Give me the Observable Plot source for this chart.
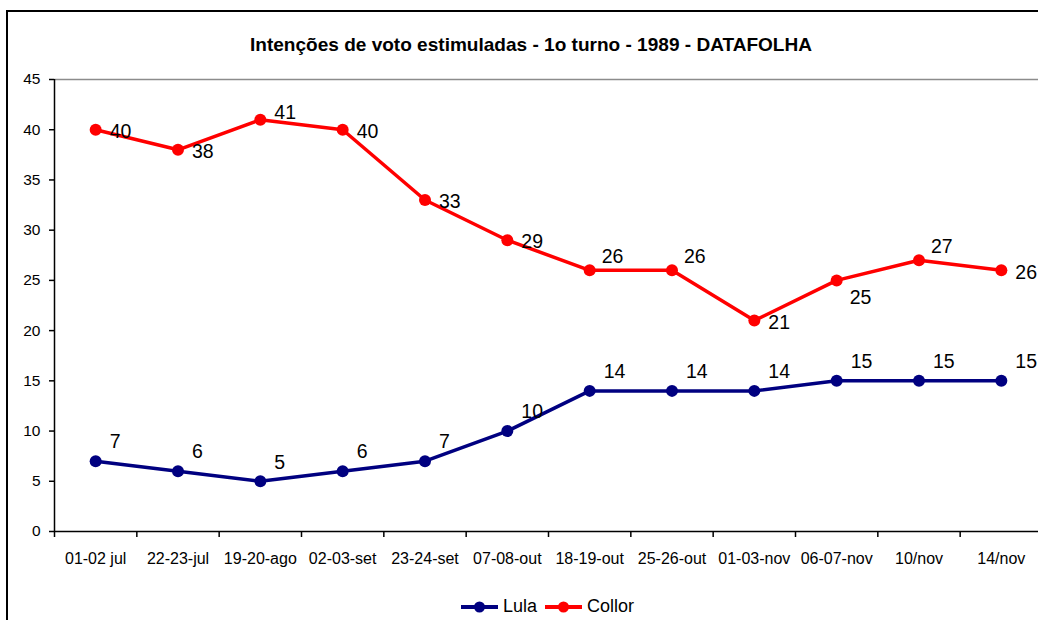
<!DOCTYPE html>
<html>
<head>
<meta charset="utf-8">
<script src="https://cdn.jsdelivr.net/npm/d3@7"></script>
<script src="https://cdn.jsdelivr.net/npm/@observablehq/plot@0.6"></script>
<style>
  html, body { margin: 0; padding: 0; background: #fff; overflow: hidden; }
  #page { position: relative; width: 1038px; height: 620px; overflow: hidden; font-family: "Liberation Sans", Arial, sans-serif; }
  #frame { position: absolute; left: 6px; top: 10px; width: 1100px; height: 700px; border: 2px solid #000; box-sizing: border-box; }
  #title { position: absolute; left: 0; top: 0; }
  #chart { position: absolute; left: 0; top: 0; }
  #legend { position: absolute; left: 461px; top: 596px; display: flex; align-items: center; font-size: 18px; color: #000; }
  #legend .item { display: flex; align-items: center; margin-right: 8px; }
  #legend svg { margin-right: 5px; }
</style>
</head>
<body>
<div id="page">
  <div id="frame"></div>
  <svg id="title" width="1038" height="70">
    <text x="531" y="51" text-anchor="middle" font-family="Liberation Sans, Arial, sans-serif" font-weight="bold" font-size="19" textLength="562" lengthAdjust="spacingAndGlyphs">Intenções de voto estimuladas - 1o turno - 1989 - DATAFOLHA</text>
  </svg>
  <div id="chart"></div>
  <div id="legend"></div>
</div>
<script>
const categories = ["01-02 jul","22-23-jul","19-20-ago","02-03-set","23-24-set","07-08-out","18-19-out","25-26-out","01-03-nov","06-07-nov","10/nov","14/nov"];
const lula   = [7, 6, 5, 6, 7, 10, 14, 14, 14, 15, 15, 15];
const collor = [40, 38, 41, 40, 33, 29, 26, 26, 21, 25, 27, 26];
const yTicks = [0, 5, 10, 15, 20, 25, 30, 35, 40, 45];
const seriesNames = ["Lula", "Collor"];
const seriesColors = ["#000080", "#ff0000"];
// label placement of Collor value labels (styling only)
const collorLabelSide = ["right","right","high","right","right","right","above","above","right","below","above","right"];

const rows = [];
categories.forEach((c, i) => rows.push({i, cat: c, value: lula[i], series: "Lula"}));
categories.forEach((c, i) => rows.push({i, cat: c, value: collor[i], series: "Collor", side: collorLabelSide[i]}));
const lulaRows = rows.filter(d => d.series === "Lula");
const collorRows = rows.filter(d => d.series === "Collor");

const boundaries = d3.range(categories.length + 1).map(k => k - 0.5);
const centers = d3.range(categories.length);

const labelFont = 19.5;
const collorText = (side, dx, dy) => Plot.text(collorRows.filter(d => d.side === side), {
  x: "i", y: "value", text: d => String(d.value), dx, dy, textAnchor: "start", fontSize: labelFont, fill: "#000"
});

const chart = Plot.plot({
  width: 1038,
  height: 590,
  marginTop: 79,
  marginBottom: 59,
  marginLeft: 54,
  marginRight: 0,
  style: { fontFamily: "Liberation Sans, Arial, sans-serif", background: "transparent", color: "#000", overflow: "visible" },
  x: { type: "linear", domain: [-0.5, categories.length - 0.5], range: [54, 1042] },
  y: { domain: [0, 45], range: [531, 79] },
  color: { domain: seriesNames, range: seriesColors },
  marks: [
    Plot.ruleY([45], { stroke: "#8c8c8c", strokeWidth: 1.5 }),
    Plot.axisY({ ticks: yTicks, tickSize: 5, tickPadding: 9, fontSize: 15.5, label: null, strokeWidth: 1.5 }),
    Plot.axisX({ ticks: boundaries, tickSize: 6, tickFormat: () => "", label: null, strokeWidth: 1.5 }),
    Plot.axisX({ ticks: centers, tickSize: 0, tickPadding: 21, fontSize: 16, tickFormat: i => categories[i], label: null }),
    Plot.ruleY([0], { stroke: "#000", strokeWidth: 1.5 }),
    Plot.ruleX([-0.5], { y1: 0, y2: 45, stroke: "#000", strokeWidth: 1.5 }),
    Plot.line(rows, { x: "i", y: "value", z: "series", stroke: "series", strokeWidth: 3.5 }),
    Plot.dot(rows, { x: "i", y: "value", fill: "series", r: 6 }),
    Plot.text(lulaRows, { x: "i", y: "value", text: d => String(d.value), dx: 14, dy: -19, textAnchor: "start", fontSize: labelFont, fill: "#000" }),
    collorText("right", 14, 2),
    collorText("high", 14, -7),
    collorText("above", 12, -14),
    collorText("below", 13, 17)
  ]
});
document.getElementById("chart").appendChild(chart);

const legend = document.getElementById("legend");
seriesNames.forEach((name, k) => {
  const item = document.createElement("div");
  item.className = "item";
  item.innerHTML = `<svg width="37" height="14"><line x1="0" y1="7" x2="37" y2="7" stroke="${seriesColors[k]}" stroke-width="4"/><circle cx="18.5" cy="7" r="5.5" fill="${seriesColors[k]}"/></svg><span>${name}</span>`;
  legend.appendChild(item);
});
</script>
</body>
</html>
